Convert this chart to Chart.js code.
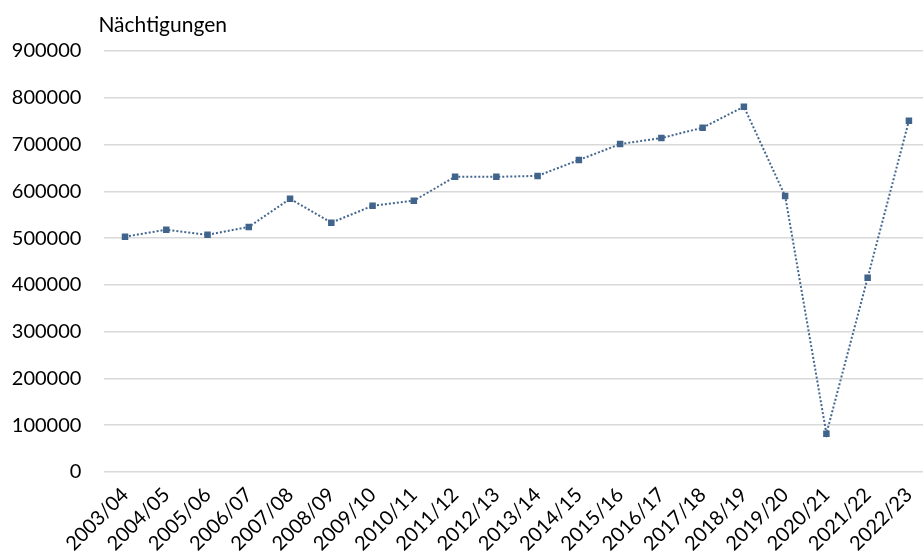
<!DOCTYPE html>
<html>
<head>
<meta charset="utf-8">
<script src="https://cdn.jsdelivr.net/npm/chart.js@4"></script>
<style>
  html, body { margin: 0; padding: 0; background: #fff; overflow: hidden; }
  #wrap { width: 937px; height: 558px; }
</style>
</head>
<body>
<div id="wrap"><canvas id="naechtigungenChart" width="937" height="558"></canvas></div>
<script>
// Nächtigungen je Saison
var saisonen = ["2003/04", "2004/05", "2005/06", "2006/07", "2007/08", "2008/09", "2009/10",
  "2010/11", "2011/12", "2012/13", "2013/14", "2014/15", "2015/16", "2016/17", "2017/18",
  "2018/19", "2019/20", "2020/21", "2021/22", "2022/23"];
var naechtigungen = [503000, 518000, 507000, 524000, 584000, 533000, 569000, 580000, 631000,
  631000, 633000, 667000, 701000, 714000, 736000, 781000, 590000, 82000, 415000, 751000];
var yTicks = [0, 100000, 200000, 300000, 400000, 500000, 600000, 700000, 800000, 900000];

var achsenTitel = {
  id: "achsenTitel",
  afterDraw: function (chart) {
    var ctx = chart.ctx;
    ctx.save();
    ctx.font = "21px Lato";
    ctx.fillStyle = "#000";
    ctx.textBaseline = "middle";
    ctx.fillText("Nächtigungen", chart.chartArea.left - 6, 25);
    ctx.restore();
  }
};

var ctx = document.getElementById("naechtigungenChart").getContext("2d");
var chart = new Chart(ctx, {
  type: "line",
  data: {
    labels: saisonen,
    datasets: [
      {
        label: "Nächtigungen",
        data: naechtigungen,
        borderColor: "#44678f",
        backgroundColor: "#41648c",
        borderWidth: 2,
        borderDash: [2, 2],
        pointStyle: "rect",
        pointRadius: 4.6,
        pointBorderWidth: 0,
        pointBackgroundColor: "#41648c",
        tension: 0,
        fill: false,
      },
    ],
  },
  options: {
    responsive: false,
    animation: false,
    layout: { padding: { top: 51, left: 0, right: 0, bottom: 0 } },
    plugins: {
      legend: { display: false },
      tooltip: { enabled: false },
    },
    scales: {
      x: {
        offset: true,
        grid: { display: false, drawTicks: false },
        border: { display: false },
        ticks: {
          color: "#000",
          font: { family: "Lato", size: 20 },
          minRotation: 45,
          maxRotation: 45,
          autoSkip: false,
          padding: 11,
        },
        afterFit: function (scale) { scale.height = 86; },
      },
      y: {
        min: 0,
        max: 900000,
        afterBuildTicks: function (scale) {
          scale.ticks = yTicks.map(function (v) { return { value: v }; });
        },
        grid: { color: "#d9d9d9", lineWidth: 1.5, drawTicks: false },
        border: { display: false },
        ticks: {
          color: "#000",
          font: { family: "Lato", size: 20 },
          padding: 23,
          callback: function (v) { return String(v); },
        },
        afterFit: function (scale) { scale.width = 104.4; },
      },
    },
  },
  plugins: [achsenTitel],
});
</script>
</body>
</html>
